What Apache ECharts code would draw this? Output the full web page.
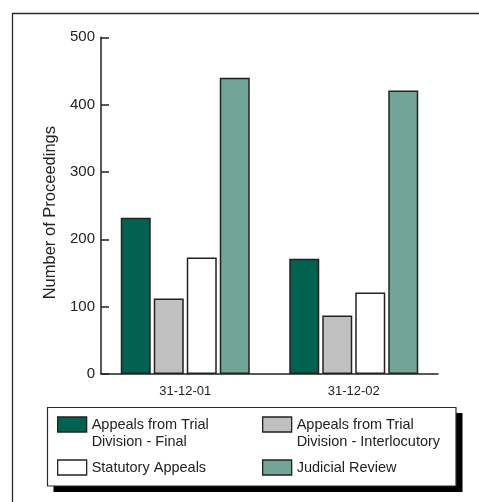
<!DOCTYPE html>
<html>
<head>
<meta charset="utf-8">
<style>
  html, body { margin: 0; padding: 0; background: #fff; }
  #chart { width: 479px; height: 502px; }
</style>
<script src="https://cdn.jsdelivr.net/npm/echarts@6/dist/echarts.min.js"></script>
</head>
<body>
<div id="chart"></div>
<script>
// Reporting dates on the category axis
const categories = ['31-12-01', '31-12-02'];

// Proceedings by type, one value per date
const trialFinal = [232, 171];
const trialInterlocutory = [112, 87];
const statutoryAppeals = [173, 121];
const judicialReview = [440, 421];

const seriesNames = [
  'Appeals from Trial Division - Final',
  'Appeals from Trial Division - Interlocutory',
  'Statutory Appeals',
  'Judicial Review'
];
// Legend wording; a leading blank line keeps the first text line level with the swatch
const seriesLabels = [
  '\nAppeals from Trial\nDivision - Final',
  '\nAppeals from Trial\nDivision - Interlocutory',
  'Statutory Appeals',
  'Judicial Review'
];
const seriesValues = [trialFinal, trialInterlocutory, statutoryAppeals, judicialReview];
const seriesColors = ['#03624f', '#c0c0c0', '#ffffff', '#72a598'];

const yTicks = [0, 100, 200, 300, 400, 500];

const FONT = '"Liberation Sans", Arial, Helvetica, sans-serif';
const INK = '#222222';

const chart = echarts.init(document.getElementById('chart'), null, { renderer: 'canvas' });

// Legend entries placed as a two-column block inside the boxed panel
const legendSpots = [
  { left: 57, top: 417, multi: true },
  { left: 262, top: 417, multi: true },
  { left: 57, top: 459, multi: false },
  { left: 262, top: 459, multi: false }
];

const legends = seriesNames.map((name, i) => {
  const spot = legendSpots[i];
  return {
    data: [{ name: name, icon: 'rect' }],
    left: spot.left,
    // three 17px lines centred on the swatch reach 18px above its top edge
    top: spot.multi ? spot.top - 18 : spot.top,
    padding: 0,
    itemWidth: 29,
    itemHeight: 15,
    itemGap: 0,
    selectedMode: false,
    formatter: () => seriesLabels[i],
    itemStyle: { borderColor: INK, borderWidth: 1.3 },
    textStyle: {
      fontFamily: FONT,
      fontSize: 14.5,
      color: INK,
      lineHeight: 17
    }
  };
});

chart.setOption({
  animation: false,
  backgroundColor: '#ffffff',
  textStyle: { fontFamily: FONT },
  graphic: [
    // outer frame around the figure
    {
      type: 'rect', z: -10, silent: true,
      shape: { x: 12.5, y: 13.5, width: 520, height: 520 },
      style: { fill: 'none', stroke: '#2a2a2a', lineWidth: 1.3 }
    },
    // legend panel drop shadow
    {
      type: 'rect', z: 1, silent: true,
      shape: { x: 53.5, y: 413, width: 409, height: 79 },
      style: { fill: '#000000' }
    },
    // legend panel
    {
      type: 'rect', z: 2, silent: true,
      shape: { x: 47.5, y: 407.5, width: 408.5, height: 78.5 },
      style: { fill: '#ffffff', stroke: '#2a2a2a', lineWidth: 1.2 }
    }
  ],
  legend: legends,
  grid: {
    left: 101,
    right: 41,
    top: 37.3,
    bottom: 128,
    containLabel: false
  },
  xAxis: {
    type: 'category',
    data: categories,
    boundaryGap: true,
    axisLine: { lineStyle: { color: INK, width: 1.5 } },
    axisTick: { inside: true, length: 8, lineStyle: { color: INK, width: 1.5 } },
    axisLabel: { fontFamily: FONT, fontSize: 13, color: INK, margin: 11 },
    splitLine: { show: false }
  },
  yAxis: {
    type: 'value',
    min: 0,
    max: 500,
    interval: 100,
    name: 'Number of Proceedings',
    nameLocation: 'middle',
    nameGap: 40,
    nameTextStyle: { fontFamily: FONT, fontSize: 16.5, color: INK, padding: [0, 14, 0, 0] },
    axisLine: { show: true, lineStyle: { color: INK, width: 1.5 } },
    axisTick: { show: true, inside: true, length: 8, lineStyle: { color: INK, width: 1.5 } },
    axisLabel: {
      fontFamily: FONT, fontSize: 15, color: INK, margin: 6,
      formatter: (v) => (yTicks.indexOf(v) >= 0 ? String(v) : '')
    },
    splitLine: { show: false }
  },
  series: seriesNames.map((name, i) => ({
    name: name,
    type: 'bar',
    data: seriesValues[i],
    barWidth: 30,
    barGap: '10%',
    itemStyle: {
      color: seriesColors[i],
      borderColor: INK,
      borderWidth: 1.5
    },
    emphasis: { disabled: true }
  }))
});
</script>
</body>
</html>
